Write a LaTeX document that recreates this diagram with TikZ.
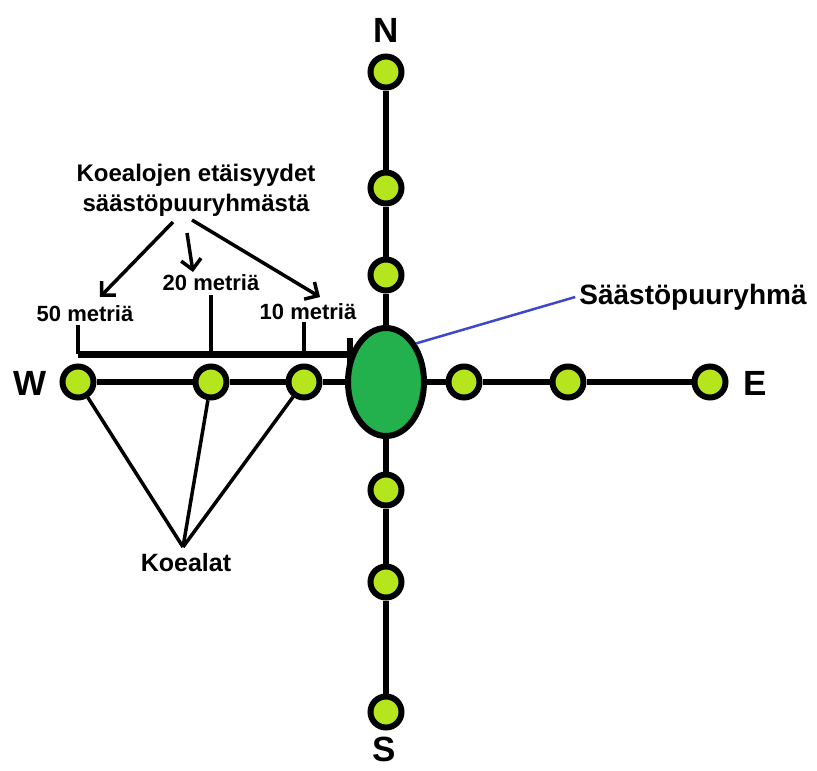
\documentclass[tikz,border=0pt]{standalone}
\usepackage{fontspec}
\setmainfont{Liberation Sans}
\usetikzlibrary{shapes.geometric,arrows.meta}
\definecolor{lime}{RGB}{181,230,29}
\definecolor{pgreen}{RGB}{34,177,76}
\definecolor{pblue}{RGB}{63,72,204}
\tikzset{
  plot/.style={circle,draw=black,fill=lime,line width=6pt,minimum size=31pt,inner sep=0pt},
  axis/.style={line width=6.5pt},
  thin/.style={line width=3.5pt},
  arr/.style={line width=3.5pt,-{Straight Barb[length=10pt,width=20pt,line width=3.5pt]}},
  big/.style={font=\bfseries\fontsize{35}{40}\selectfont,inner sep=0pt},
  lab/.style={font=\bfseries\fontsize{22}{26}\selectfont,inner sep=0pt},
}
\begin{document}
\begin{tikzpicture}[x=1pt,y=-1pt]
\useasboundingbox (0,0) rectangle (817,771);
% central group
\node[ellipse,draw=black,fill=pgreen,line width=6pt,minimum width=76pt,minimum height=108pt,inner sep=0pt] (C) at (386,382) {};
% plots
\node[plot] (N1) at (386,72) {};
\node[plot] (N2) at (386,188) {};
\node[plot] (N3) at (386,275) {};
\node[plot] (S1) at (386,490) {};
\node[plot] (S2) at (386,582) {};
\node[plot] (S3) at (386,712) {};
\node[plot] (W1) at (78,382) {};
\node[plot] (W2) at (211,382) {};
\node[plot] (W3) at (304,382) {};
\node[plot] (E1) at (464,382) {};
\node[plot] (E2) at (568,382) {};
\node[plot] (E3) at (710,382) {};
% axis lines
\draw[axis] (N1) -- (N2);
\draw[axis] (N2) -- (N3);
\draw[axis] (N3) -- (C);
\draw[axis] (C) -- (S1);
\draw[axis] (S1) -- (S2);
\draw[axis] (S2) -- (S3);
\draw[axis] (W1) -- (W2);
\draw[axis] (W2) -- (W3);
\draw[axis] (W3) -- (C);
\draw[axis] (C) -- (E1);
\draw[axis] (E1) -- (E2);
\draw[axis] (E2) -- (E3);
% compass letters
\node[big] (Nl) at (386,30) {N};
\node[big] (Sl) at (384,749) {S};
\node[big] (Wl) at (30,383) {W};
\node[big] (El) at (755,383) {E};
% label for central group
\node[font=\bfseries\fontsize{28}{30}\selectfont,inner sep=0pt] (sa) at (693,297) {Säästöpuuryhmä};
\draw[pblue,line width=2.5pt] (C.52) -- ([xshift=-4pt]sa.west);
% distance labels
\node[lab] (m50) at (85,314) {50 metriä};
\node[lab] (m20) at (211,283) {20 metriä};
\node[lab] (m10) at (308,312) {10 metriä};
\coordinate (b0) at (78,354);
\coordinate (b1) at (350,354);
\draw[line width=7pt] (b0) -- (b1);
\draw[line width=5.5pt] (350,338) -- (350,366);
\draw[thin] (78,325) -- (b0);
\draw[thin] (211,295) -- (211,354);
\draw[thin] (304,322) -- (304,354);
% heading
\node[font=\bfseries\fontsize{24}{30}\selectfont,align=center,inner sep=0pt] (hd) at (196,190) {Koealojen etäisyydet\\säästöpuuryhmästä};
\coordinate (a1s) at (173,222);
\coordinate (a1e) at (100,297);
\coordinate (a2s) at (187,233);
\coordinate (a2e) at (193,272);
\coordinate (a3s) at (192,220);
\coordinate (a3e) at (320,297);
\draw[arr] (a1s) -- (a1e);
\draw[arr] (a2s) -- (a2e);
\draw[arr] (a3s) -- (a3e);
% Koealat
\node[font=\bfseries\fontsize{25}{28}\selectfont,inner sep=0pt] (ko) at (186,563) {Koealat};
\coordinate (kp) at (183,547);
\draw[thin] (W1) -- (kp);
\draw[thin] (W2) -- (kp);
\draw[thin] (W3) -- (kp);
\end{tikzpicture}
\end{document}
